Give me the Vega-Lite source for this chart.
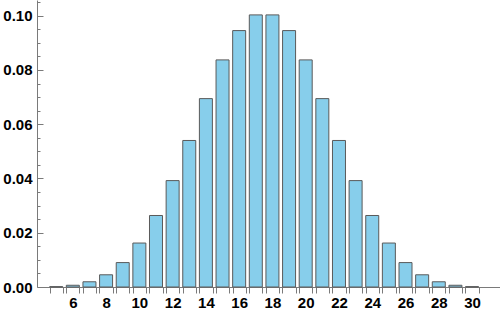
{
  "$schema": "https://vega.github.io/schema/vega-lite/v6.json",
  "width": 463,
  "height": 287,
  "autosize": {"type": "none"},
  "padding": {"left": 37, "top": 0, "right": 0, "bottom": 23},
  "background": "white",
  "config": {
    "view": {"stroke": null},
    "axis": {
      "labelFont": "Liberation Sans",
      "labelFontWeight": "bold",
      "labelFontSize": 15,
      "labelColor": "#000000",
      "domainColor": "#7a7a7a",
      "tickColor": "#7a7a7a",
      "grid": false,
      "labelOverlap": false,
      "labelFlush": false,
      "zindex": 1
    }
  },
  "data": {
    "values": [
      {"x": 5, "p": 0.000129},
      {"x": 6, "p": 0.000643},
      {"x": 7, "p": 0.001929},
      {"x": 8, "p": 0.004501},
      {"x": 9, "p": 0.009002},
      {"x": 10, "p": 0.016204},
      {"x": 11, "p": 0.026363},
      {"x": 12, "p": 0.039223},
      {"x": 13, "p": 0.054012},
      {"x": 14, "p": 0.069444},
      {"x": 15, "p": 0.083719},
      {"x": 16, "p": 0.094522},
      {"x": 17, "p": 0.100309},
      {"x": 18, "p": 0.100309},
      {"x": 19, "p": 0.094522},
      {"x": 20, "p": 0.083719},
      {"x": 21, "p": 0.069444},
      {"x": 22, "p": 0.054012},
      {"x": 23, "p": 0.039223},
      {"x": 24, "p": 0.026363},
      {"x": 25, "p": 0.016204},
      {"x": 26, "p": 0.009002},
      {"x": 27, "p": 0.004501},
      {"x": 28, "p": 0.001929},
      {"x": 29, "p": 0.000643},
      {"x": 30, "p": 0.000129}
    ]
  },
  "layer": [
    {
      "mark": {"type": "bar", "width": 13, "fill": "#87CEEB", "stroke": "#5a5a5a", "strokeWidth": 1},
      "encoding": {
        "x": {
          "field": "x", "type": "quantitative",
          "scale": {"domain": [4.147, 31.38], "nice": false, "zero": false},
          "axis": {"orient": "bottom", "values": [6, 8, 10, 12, 14, 16, 18, 20, 22, 24, 26, 28, 30], "ticks": false, "labelPadding": 8, "title": null}
        },
        "y": {
          "field": "p", "type": "quantitative",
          "scale": {"domain": [0, 0.1058], "nice": false},
          "axis": {"orient": "left", "values": [0, 0.02, 0.04, 0.06, 0.08, 0.1], "format": ".2f", "tickSize": -6, "labelPadding": 11, "title": null}
        }
      }
    },
    {
      "mark": {"type": "bar", "width": 13, "opacity": 0},
      "encoding": {
        "x": {
          "field": "x", "type": "quantitative",
          "scale": {"domain": [4.147, 31.38], "nice": false, "zero": false},
          "axis": {"orient": "bottom", "labels": false, "domain": false, "tickSize": 6, "title": null,
            "values": [4.6, 5.4, 5.6, 6.4, 6.6, 7.4, 7.6, 8.4, 8.6, 9.4, 9.6, 10.4, 10.6, 11.4, 11.6, 12.4, 12.6, 13.4, 13.6, 14.4, 14.6, 15.4, 15.6, 16.4, 16.6, 17.4, 17.6, 18.4, 18.6, 19.4, 19.6, 20.4, 20.6, 21.4, 21.6, 22.4, 22.6, 23.4, 23.6, 24.4, 24.6, 25.4, 25.6, 26.4, 26.6, 27.4, 27.6, 28.4, 28.6, 29.4, 29.6, 30.4]}
        },
        "y": {
          "field": "p", "type": "quantitative",
          "scale": {"domain": [0, 0.1058], "nice": false},
          "axis": {"orient": "left", "labels": false, "domain": false, "tickSize": -3, "title": null,
            "values": [0.005, 0.01, 0.015, 0.025, 0.03, 0.035, 0.045, 0.05, 0.055, 0.065, 0.07, 0.075, 0.085, 0.09, 0.095, 0.105]}
        }
      }
    }
  ],
  "resolve": {"axis": {"x": "independent", "y": "independent"}}
}
